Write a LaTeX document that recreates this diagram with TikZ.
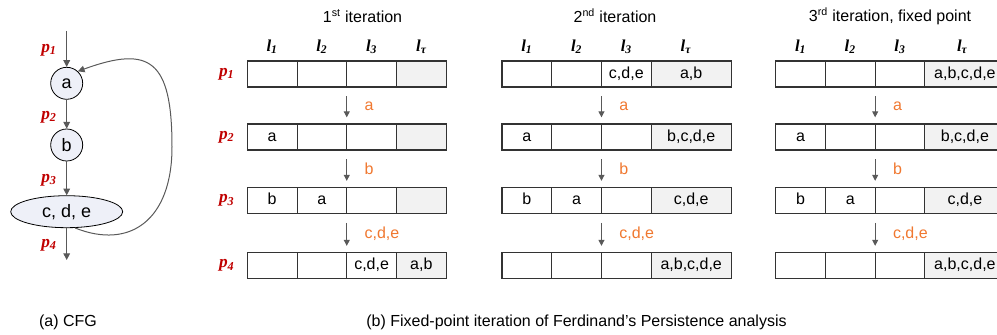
\documentclass[tikz,border=0pt]{standalone}
\usepackage{fontspec}
\setmainfont{Liberation Sans}
\newfontfamily\tnr{Liberation Serif}
\usetikzlibrary{arrows.meta,shapes.geometric}
\definecolor{pred}{HTML}{C00000}
\definecolor{lorange}{HTML}{F07830}
\definecolor{nodefill}{HTML}{EEF0F8}
\definecolor{cellgray}{HTML}{F2F2F2}
\definecolor{arrgray}{HTML}{595959}
\definecolor{cellline}{HTML}{333333}
\tikzset{
  txt/.style={font=\fontsize{12}{14}\selectfont, inner sep=0pt},
  cellbox/.style={draw=cellline, line width=0.8pt, minimum width=37.3pt, minimum height=19.5pt,
    inner sep=0pt, outer sep=0pt, anchor=west, font=\fontsize{12}{14}\selectfont,
    text height=8pt, text depth=1.8pt},
  flowarr/.style={draw=arrgray, line width=0.75pt, -{Triangle[length=4.5pt,width=4.5pt]}},
  cfgarr/.style={flowarr, -{Triangle[length=5pt,width=5pt]}},
  elab/.style={midway, anchor=west, xshift=13pt, inner sep=0pt, text=lorange,
    font=\fontsize{12}{14}\selectfont, text height=8pt, text depth=1.8pt},
  plab/.style={inner sep=0pt, text=pred, font=\fontsize{13}{15}\tnr\bfseries\itshape},
  llab/.style={inner sep=0pt, font=\fontsize{12.5}{15}\tnr\bfseries\itshape},
  cfgnode/.style={draw=black, line width=0.6pt, fill=nodefill, inner sep=1pt,
    font=\fontsize{13.5}{16}\selectfont},
}
\newcommand\cellrow[8]{%
  \node[cellbox] (#1c1) at (#2,#3) {#4};
  \node[cellbox] (#1c2) at (#1c1.east) {#5};
  \node[cellbox] (#1c3) at (#1c2.east) {#6};
  \node[cellbox, fill=cellgray, minimum width=#8] (#1c4) at (#1c3.east) {#7};
}
\newcommand\rowarrow[3]{%
  \draw[flowarr] ([yshift=-7pt]#1c3.south west) -- node[elab] {#3} ([yshift=5pt]#2c3.north west);
}
\begin{document}
\begin{tikzpicture}[x=0.75pt, y=-0.75pt]
\useasboundingbox (0,0) rectangle (997,335);
\clip (0,0) rectangle (997,335);

% ---------------- CFG ----------------
\node[cfgnode, circle, minimum size=24pt] (na) at (66.7,83.3) {a};
\node[cfgnode, circle, minimum size=24pt] (nb) at (66.7,145) {b};
\node[cfgnode, ellipse, minimum width=84pt, minimum height=24pt] (nc) at (66.7,211.7) {c, d, e};
\coordinate (cfgtop) at (66.7,31);
\coordinate (cfgbot) at (66.7,260);
\coordinate (loopr) at (172,147);
\draw[cfgarr] (cfgtop) -- (na);
\draw[cfgarr] (na) -- (nb);
\draw[cfgarr] (nb) -- (nc);
\draw[cfgarr] (nc) -- (cfgbot);
\draw[cfgarr] (nc.-63) .. controls (130,250) and (172,220) .. (loopr)
  .. controls (172,60) and (150,45) .. (na.47);
\node[plab] (cp1) at (49,50) {p\textsubscript{1}};
\node[plab] (cp2) at (49,117) {p\textsubscript{2}};
\node[plab] (cp3) at (49,180) {p\textsubscript{3}};
\node[plab] (cp4) at (49,245) {p\textsubscript{4}};
\node[txt] (capa) at (68,322) {(a) CFG};

% ---------------- headers ----------------
\coordinate (hy) at (0,47);
\node[txt] (h1) at (362.5,16) {1\textsuperscript{st} iteration};
\node[txt] (h2) at (615,16) {2\textsuperscript{nd} iteration};
\node[txt] (h3) at (890,16) {3\textsuperscript{rd} iteration, fixed point};

% ---------------- table 1 ----------------
\cellrow{Ar1}{247.3}{74}{}{}{}{}{37.3pt}
\cellrow{Ar2}{247.3}{137}{a}{}{}{}{37.3pt}
\cellrow{Ar3}{247.3}{200.5}{b}{a}{}{}{37.3pt}
\cellrow{Ar4}{247.3}{265.5}{}{}{c,d,e}{a,b}{37.3pt}
\rowarrow{Ar1}{Ar2}{a}
\rowarrow{Ar2}{Ar3}{b}
\rowarrow{Ar3}{Ar4}{c,d,e}
\node[plab] (tp1) at (226.7,74) {p\textsubscript{1}};
\node[plab] (tp2) at (226.7,137) {p\textsubscript{2}};
\node[plab] (tp3) at (226.7,200.5) {p\textsubscript{3}};
\node[plab] (tp4) at (226.7,265.5) {p\textsubscript{4}};
\node[llab] (Al1) at (Ar1c1 |- hy) {l\textsubscript{1}};
\node[llab] (Al2) at (Ar1c2 |- hy) {l\textsubscript{2}};
\node[llab] (Al3) at (Ar1c3 |- hy) {l\textsubscript{3}};
\node[llab] (Al4) at (Ar1c4 |- hy) {l\textsubscript{τ}};

% ---------------- table 2 ----------------
\cellrow{Br1}{502}{74}{}{}{c,d,e}{a,b}{60pt}
\cellrow{Br2}{502}{137}{a}{}{}{b,c,d,e}{60pt}
\cellrow{Br3}{502}{200.5}{b}{a}{}{c,d,e}{60pt}
\cellrow{Br4}{502}{265.5}{}{}{}{a,b,c,d,e}{60pt}
\rowarrow{Br1}{Br2}{a}
\rowarrow{Br2}{Br3}{b}
\rowarrow{Br3}{Br4}{c,d,e}
\node[llab] (Bl1) at (Br1c1 |- hy) {l\textsubscript{1}};
\node[llab] (Bl2) at (Br1c2 |- hy) {l\textsubscript{2}};
\node[llab] (Bl3) at (Br1c3 |- hy) {l\textsubscript{3}};
\node[llab, xshift=-4pt] (Bl4) at (Br1c4 |- hy) {l\textsubscript{τ}};

% ---------------- table 3 ----------------
\cellrow{Cr1}{775.7}{74}{}{}{}{a,b,c,d,e}{60pt}
\cellrow{Cr2}{775.7}{137}{a}{}{}{b,c,d,e}{60pt}
\cellrow{Cr3}{775.7}{200.5}{b}{a}{}{c,d,e}{60pt}
\cellrow{Cr4}{775.7}{265.5}{}{}{}{a,b,c,d,e}{60pt}
\rowarrow{Cr1}{Cr2}{a}
\rowarrow{Cr2}{Cr3}{b}
\rowarrow{Cr3}{Cr4}{c,d,e}
\node[llab] (Cl1) at (Cr1c1 |- hy) {l\textsubscript{1}};
\node[llab] (Cl2) at (Cr1c2 |- hy) {l\textsubscript{2}};
\node[llab] (Cl3) at (Cr1c3 |- hy) {l\textsubscript{3}};
\node[llab, xshift=-2pt] (Cl4) at (Cr1c4 |- hy) {l\textsubscript{τ}};

\node[txt] (capb) at (576.5,322) {(b) Fixed-point iteration of Ferdinand’s Persistence analysis};
\end{tikzpicture}
\end{document}
